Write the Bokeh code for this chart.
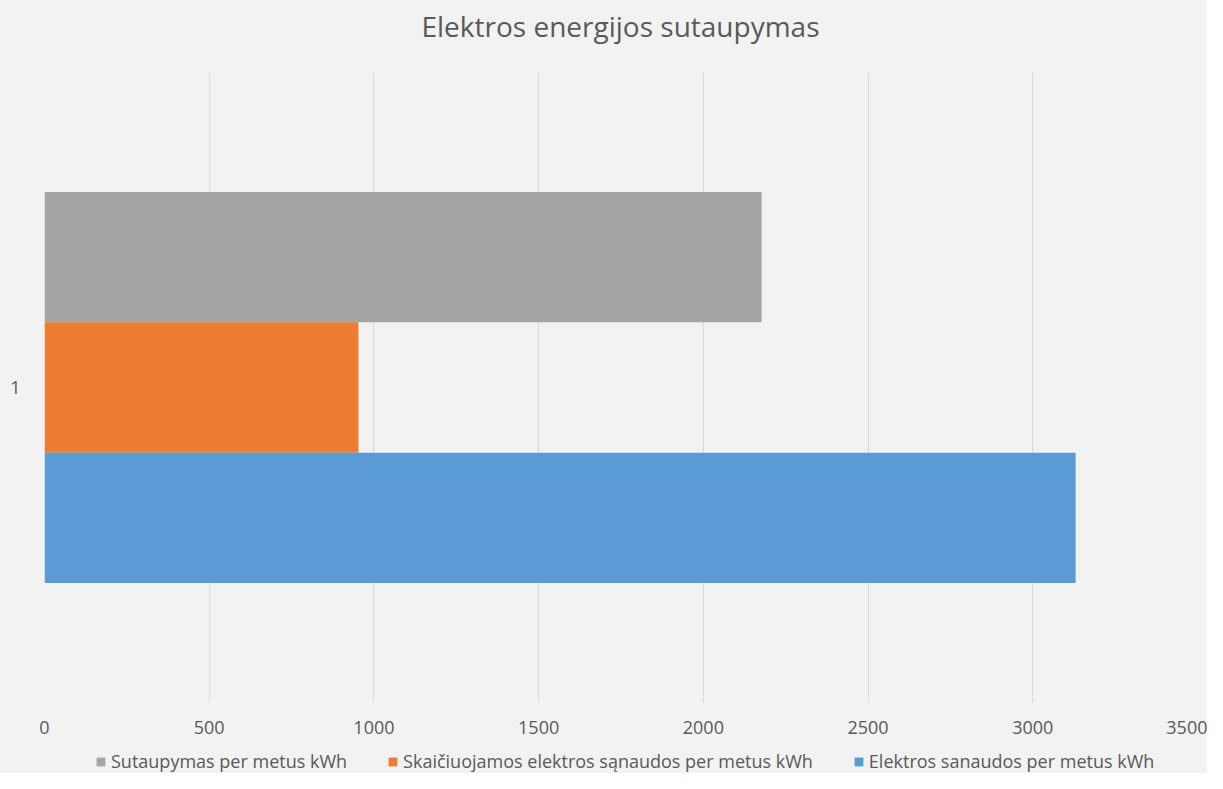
from bokeh.plotting import figure
from bokeh.models import Range1d, FixedTicker, Legend, LegendItem, ColumnDataSource
from bokeh.layouts import column
from bokeh.core.properties import value
from bokeh.embed import file_html
from bokeh.resources import INLINE

title = "Elektros energijos sutaupymas"
category = "1"
series = ["Sutaupymas per metus kWh",
          "Skaičiuojamos elektros sąnaudos per metus kWh",
          "Elektros sanaudos per metus kWh"]
values = [2177, 953, 3130]
colors = ["#a5a5a5", "#ed7d31", "#5b9bd5"]
x_ticks = [0, 500, 1000, 1500, 2000, 2500, 3000, 3500]

FONT = "Open Sans"
TXT = "#595959"
BG = "#f2f2f2"
W = 1207
BL, BR = 44, 10


def bare(h):
    f = figure(width=W, height=h, x_range=Range1d(BL, W - BR), y_range=Range1d(0, h),
               x_axis_type=None, y_axis_type=None,
               output_backend="svg", toolbar_location=None,
               background_fill_color=BG, border_fill_color=BG,
               min_border=0, min_border_left=BL, min_border_right=BR,
               min_border_top=0, min_border_bottom=0)
    f.outline_line_color = None
    f.grid.grid_line_color = None
    return f


# ---- title strip
TH = 60
pt = bare(TH)
pt.text(x=[620], y=[TH - 25], text=[title], text_align="center",
        text_baseline="middle", text_font=value(FONT),
        text_font_size="28px", text_color=TXT)

# ---- main chart
MH = 680
p = figure(width=W, height=MH,
           x_range=Range1d(0, 3500), y_range=Range1d(0.5, 1.5),
           output_backend="svg", toolbar_location=None,
           background_fill_color=BG, border_fill_color=BG,
           min_border_left=BL, min_border_right=BR, min_border_top=12,
           min_border_bottom=38)
p.outline_line_color = None

bar_h = 0.2068
for i, (v, c) in enumerate(zip(values, colors)):
    yc = 1 + (1 - i) * bar_h
    src = ColumnDataSource(dict(y=[yc], right=[v]))
    p.hbar(y="y", right="right", left=0, height=bar_h, source=src,
           fill_color=c, line_color=None)

p.xaxis.ticker = FixedTicker(ticks=x_ticks)
p.xaxis.axis_line_color = None
p.xaxis.major_tick_line_color = None
p.xaxis.minor_tick_line_color = None
p.xaxis.major_label_text_font = FONT
p.xaxis.major_label_text_font_size = "18px"
p.xaxis.major_label_text_color = TXT
p.xaxis.major_label_standoff = 12

p.yaxis.ticker = FixedTicker(ticks=[1])
p.yaxis.major_label_overrides = {1: category}
p.yaxis.axis_line_color = None
p.yaxis.major_tick_line_color = None
p.yaxis.minor_tick_line_color = None
p.yaxis.major_label_text_font = FONT
p.yaxis.major_label_text_font_size = "18px"
p.yaxis.major_label_text_color = TXT
p.yaxis.major_label_standoff = 18

p.xgrid.grid_line_color = "#d9d9d9"
p.xgrid.grid_line_width = 1
p.ygrid.grid_line_color = None

# ---- legend strip
LH = 773 - TH - MH
pl = bare(LH)
items = []
for name, c in zip(series, colors):
    src = ColumnDataSource(dict(y=[-1000], right=[-1000]))
    r = pl.hbar(y="y", right="right", left=-2000, height=1, source=src,
                fill_color=c, line_color=None)
    items.append(LegendItem(label=name, renderers=[r]))
legend = Legend(items=items, orientation="horizontal", location=(51, 0),
                background_fill_alpha=0, border_line_color=None,
                label_text_font=FONT, label_text_font_size="18px",
                label_text_color=TXT, glyph_width=11, glyph_height=11,
                label_standoff=5, spacing=40, padding=0, margin=0)
pl.add_layout(legend, "center")

layout = column(pt, p, pl, spacing=0, styles={"background-color": BG})
open("out.html", "w").write(file_html(layout, INLINE))
